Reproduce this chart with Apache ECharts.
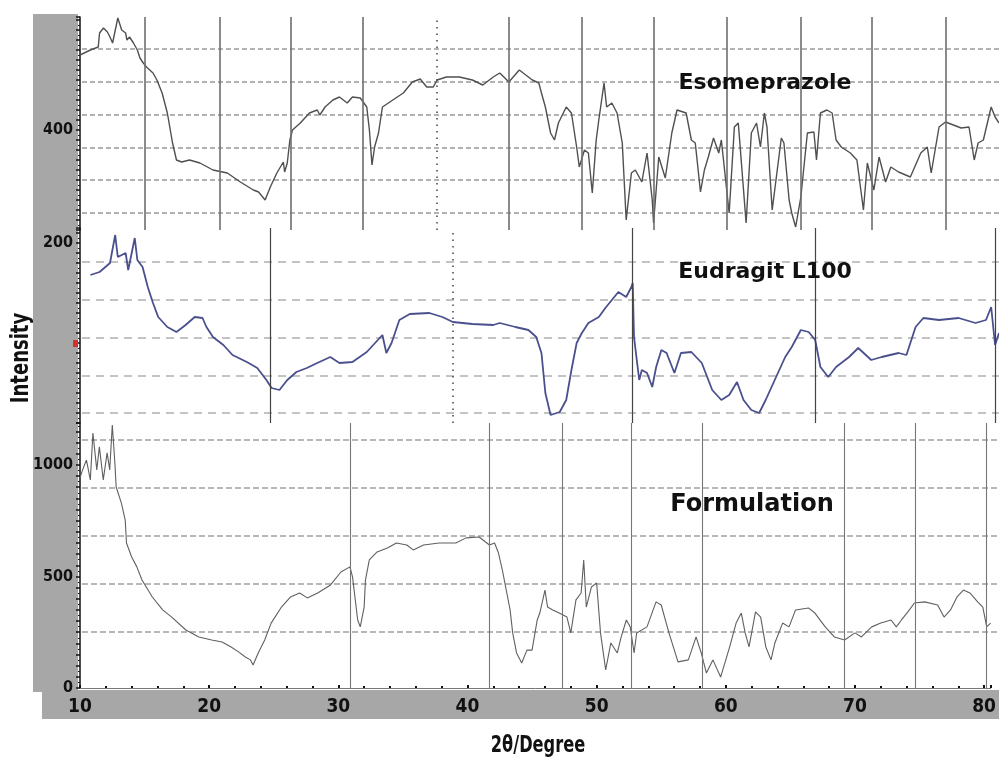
<!DOCTYPE html>
<html><head><meta charset="utf-8">
<script src="https://cdn.jsdelivr.net/npm/echarts@6/dist/echarts.min.js"></script>
<style>html,body{margin:0;padding:0;background:#fff}#c{width:999px;height:763px}</style>
</head><body><div id="c"></div>
<script>
// ---------- DATA ----------
const esoTheta=[10.0,10.8,11.4,11.5,11.8,12.1,12.3,12.5,12.9,13.2,
13.5,13.6,13.8,14.1,14.4,14.6,14.8,15.1,15.6,15.9,
16.3,16.7,17.1,17.4,17.8,18.4,19.2,20.2,21.3,22.3,
23.3,23.7,24.2,24.6,25.1,25.6,25.7,25.9,26.1,26.3,
26.9,27.6,28.2,28.4,28.8,29.4,29.9,30.5,30.9,31.5,
32.0,32.2,32.4,32.6,32.9,33.2,34.0,34.8,35.5,36.1,
36.6,37.1,37.4,38.1,39.1,40.1,40.9,41.7,42.2,42.9,
43.7,44.2,44.7,45.2,45.4,45.7,46.1,46.4,46.7,47.3,
47.7,48.1,48.3,48.7,49.0,49.3,49.6,49.8,50.2,50.4,
50.8,51.2,51.6,51.9,52.3,52.6,53.1,53.5,53.9,54.0,
54.4,54.9,55.4,55.8,56.5,56.9,57.2,57.6,57.9,58.2,
58.6,59.0,59.2,59.8,60.2,60.5,61.1,61.5,61.9,62.2,
62.5,62.7,63.1,63.8,64.0,64.4,64.6,64.9,65.3,65.8,
66.3,66.5,66.8,67.3,67.7,68.0,68.4,69.1,69.6,70.1,
70.4,70.9,71.3,71.8,72.2,72.8,73.7,74.5,75.0,75.3,
75.9,76.4,77.0,77.6,78.2,78.6,78.9,79.3,79.9,80.2,
80.5];
const esoIntensity=[550,560,566,594,604,596,586,574,624,600,
594,580,586,574,560,544,536,526,514,500,
474,434,374,340,336,340,334,320,314,296,
280,276,260,286,314,336,316,334,380,400,
414,434,440,430,446,460,466,454,466,464,
446,400,330,366,394,446,460,474,496,502,
486,486,500,506,506,500,490,506,514,496,
520,510,500,494,474,446,394,380,414,446,
434,366,326,360,354,274,380,420,494,446,
454,434,374,220,314,320,296,354,260,214,
346,304,394,440,434,380,374,276,320,346,
384,354,380,234,406,414,214,394,414,366,
434,406,240,384,374,260,234,206,266,394,
396,340,434,440,434,380,366,354,340,240,
334,280,346,296,326,316,306,354,366,314,
406,416,410,404,406,340,374,380,446,426,
414];

const eudTheta=[10.8,11.5,12.3,12.7,12.9,13.5,13.7,14.2,14.4,14.8,
15.2,15.6,16.0,16.7,17.4,18.1,18.8,19.4,19.7,20.2,
21.0,21.7,22.8,23.6,24.3,24.7,25.3,25.9,26.6,27.4,
28.2,29.2,29.9,30.9,32.0,33.2,33.5,33.9,34.5,35.3,
36.8,37.8,38.6,40.1,41.7,42.2,43.4,44.4,45.0,45.4,
45.7,46.1,46.8,47.3,47.7,48.1,48.5,49.0,49.8,50.3,
50.8,51.3,51.9,52.3,52.4,52.5,52.9,53.1,53.5,53.9,
54.2,54.6,55.0,55.6,56.1,56.9,57.7,58.5,59.2,59.8,
60.4,60.9,61.5,62.1,62.6,63.4,64.1,64.6,65.3,65.9,
66.4,66.8,67.4,68.0,69.0,69.7,70.7,71.5,72.8,73.4,
74.1,74.7,75.9,77.4,78.7,79.5,79.9,80.2,80.5];
const eudIntensity=[168,171,180,208,186,190,173,205,183,176,
156,140,126,116,111,118,126,125,116,106,
98,88,81,75,63,55,53,63,71,75,
80,86,80,81,91,108,90,100,123,129,
130,126,121,119,118,120,116,113,106,90,
50,28,31,43,73,100,110,120,126,135,
143,151,146,156,160,106,63,73,70,56,
76,93,90,70,90,91,80,53,43,48,
61,43,33,30,43,66,86,96,113,111,
103,76,66,76,86,95,83,86,90,88,
116,125,123,125,120,123,136,98,110];

const formTheta=[10.0,10.2,10.5,10.8,11.0,11.3,11.5,11.8,12.1,12.3,
12.5,12.7,12.8,13.2,13.5,13.6,14.0,14.4,14.8,15.6,
16.4,17.1,18.2,19.2,20.2,21.0,21.7,22.3,22.8,23.2,
23.4,23.8,24.3,24.8,25.6,26.3,27.0,27.6,28.4,29.4,
30.2,30.9,31.1,31.5,31.7,32.0,32.1,32.4,33.0,33.8,
34.5,35.3,35.8,36.6,37.8,39.1,39.9,40.9,41.7,42.1,
42.4,42.7,43.3,43.5,43.8,44.2,44.6,45.0,45.4,45.6,
46.0,46.2,46.6,47.1,47.7,48.0,48.4,48.8,49.0,49.2,
49.6,50.0,50.3,50.7,51.1,51.6,51.9,52.3,52.6,52.9,
53.1,53.9,54.6,55.0,55.6,56.3,57.1,57.7,58.1,58.5,
59.0,59.6,60.3,60.8,61.2,61.5,61.8,62.3,62.7,63.1,
63.5,63.8,64.4,64.9,65.4,66.4,66.9,67.7,68.4,69.2,
70.0,70.5,71.3,72.0,72.8,73.2,73.6,74.1,74.6,75.4,
76.4,76.9,77.4,77.9,78.4,78.9,79.5,79.9,80.2,80.5];
const formIntensity=[942,978,1022,933,1143,978,1081,933,1054,978,
1179,1009,901,830,753,650,587,543,484,408,
350,318,260,229,215,206,184,161,139,126,
103,157,215,291,363,408,426,404,426,462,
520,543,498,305,274,363,484,574,610,628,
650,641,619,641,650,650,673,677,641,650,
605,529,350,247,157,112,170,170,305,336,
439,363,350,336,318,247,395,426,574,363,
453,471,247,81,202,157,229,305,274,157,
247,274,386,372,247,117,126,229,157,67,
126,49,184,291,336,247,184,341,318,184,
126,202,291,274,350,359,336,274,229,215,
247,229,274,291,305,274,305,341,381,386,
372,318,350,408,439,426,386,363,274,291];

// vertical reference lines (2θ positions) per panel
const esoPeaks=[15.0,20.7,26.2,31.7,42.9,48.5,54.0,59.6,65.3,70.7,76.4];
const esoDottedPeaks=[37.4];
const eudPeaks=[24.6,52.4,66.4,80.2];
const eudDottedPeaks=[38.6];
const formPeaks=[30.9,41.7,47.3,52.7,58.2,69.2,74.7,80.2];

// tick labels
const xTickLabels=[10,20,30,40,50,60,70,80];
const esoTickLabels=[400];
const eudTickLabels=[200];
const formTickLabels=[0,500,1000];

const panelNames=['Esomeprazole','Eudragit L100','Formulation'];
const xTitle='2θ/Degree';
const yTitle='Intensity';

// ---------- CHART ----------
function zip(a,b){return a.map((v,i)=>[v,b[i]]);}
const COND='"DejaVu Sans Condensed","Liberation Sans",sans-serif';
const TITLEFONT='"DejaVu Sans",Verdana,sans-serif';

function panelX(gi){
  return {gridIndex:gi,type:'value',min:10,max:80.5,show:false};
}
function panelY(gi,min,max,interval,labels){
  return {gridIndex:gi,type:'value',min:min,max:max,interval:interval,
    axisLine:{show:true,lineStyle:{color:'#111',width:1.5}},
    axisTick:{show:true,length:4,lineStyle:{color:'#111',width:1.5}},
    minorTick:{show:true,splitNumber:2,length:2,lineStyle:{color:'#222',width:1}},
    splitLine:{show:false},
    axisLabel:{interval:0,margin:7,color:'#111',fontFamily:COND,fontWeight:'bold',fontSize:16,
      formatter:v=>labels.includes(v)?String(v):''}
  };
}
function decoX(gi){return {gridIndex:gi,type:'value',min:0,max:1,show:false};}
function decoY(gi,n,dash,color){
  return {gridIndex:gi,type:'value',min:0,max:n,interval:1,
    axisLine:{show:false},axisTick:{show:false},axisLabel:{show:false},
    splitLine:{show:true,lineStyle:{type:dash,color:color,width:1.5}}};
}
function marks(solid,dotted,color,width){
  return {silent:true,symbol:'none',animation:false,label:{show:false},
    lineStyle:{color:color,width:width,type:'solid'},
    data:solid.map(v=>({xAxis:v})).concat(dotted.map(v=>({xAxis:v,lineStyle:{type:[1.5,5],color:'#444',width:1.5}})))};
}

const chart=echarts.init(document.getElementById('c'));
chart.setOption({
  animation:false,
  backgroundColor:'#ffffff',
  grid:[
    {left:80,right:0,top:17,height:213},
    {left:80,right:0,top:228,height:195},
    {left:80,right:0,top:423,height:265},
    {left:82,right:0,top:49,height:164},
    {left:82,right:0,top:262,height:151},
    {left:82,right:0,top:440,height:192}
  ],
  xAxis:[
    panelX(0),panelX(1),
    {gridIndex:2,type:'value',min:10,max:80.5,interval:10,
      axisLine:{show:true,lineStyle:{color:'#777',width:1}},
      axisTick:{show:true,inside:true,length:3,lineStyle:{color:'#111',width:2}},
      minorTick:{show:true,splitNumber:5,length:2,lineStyle:{color:'#111',width:2}},
      splitLine:{show:false},
      axisLabel:{interval:0,margin:10,color:'#111',fontFamily:COND,fontWeight:'bold',fontSize:19,
        formatter:v=>xTickLabels.includes(v)?String(v):''}
    },
    decoX(3),decoX(4),decoX(5)
  ],
  yAxis:[
    panelY(0,200,626,20,esoTickLabels),
    panelY(1,20,215,10,eudTickLabels),
    panelY(2,0,1188,50,formTickLabels),
    decoY(3,5,[5,3],'#9a9a9a'),
    decoY(4,4,[8,6],'#b0b0b0'),
    decoY(5,4,[6,3],'#a0a0a0')
  ],
  series:[
    {type:'line',xAxisIndex:0,yAxisIndex:0,data:zip(esoTheta,esoIntensity),showSymbol:false,
      lineStyle:{color:'#505050',width:1.4},z:3,
      markLine:marks(esoPeaks,esoDottedPeaks,'#6e6e6e',1.6)},
    {type:'line',xAxisIndex:1,yAxisIndex:1,data:zip(eudTheta,eudIntensity),showSymbol:false,
      lineStyle:{color:'#4a4f8e',width:1.8},z:3,
      markLine:marks(eudPeaks,eudDottedPeaks,'#444',1.2)},
    {type:'line',xAxisIndex:2,yAxisIndex:2,data:zip(formTheta,formIntensity),showSymbol:false,
      lineStyle:{color:'#606060',width:1.1},z:3,
      markLine:marks(formPeaks,[],'#777',1.1)}
  ],
  graphic:[
    {type:'rect',silent:true,z:-10,shape:{x:33,y:14,width:45,height:678},style:{fill:'#a7a7a7'}},
    {type:'rect',silent:true,z:-10,shape:{x:42,y:690,width:957,height:29},style:{fill:'#a7a7a7'}},
    {type:'rect',silent:true,z:10,shape:{x:73,y:340,width:5,height:7},style:{fill:'#d43030'}},
    {type:'text',silent:true,z:10,x:765,y:83,style:{text:panelNames[0],font:'bold 22px '+TITLEFONT,fill:'#111',align:'center',verticalAlign:'middle'}},
    {type:'text',silent:true,z:10,x:765,y:272,style:{text:panelNames[1],font:'bold 22px '+TITLEFONT,fill:'#111',align:'center',verticalAlign:'middle'}},
    {type:'text',silent:true,z:10,x:752,y:505,style:{text:panelNames[2],font:'bold 24px '+TITLEFONT,fill:'#111',align:'center',verticalAlign:'middle'}},
    {type:'text',silent:true,z:10,x:538,y:746,scaleY:1.3,style:{text:xTitle,font:'bold 18px '+COND,fill:'#111',align:'center',verticalAlign:'middle'}},
    {type:'text',silent:true,z:10,x:22,y:358,rotation:Math.PI/2,scaleY:1.2,style:{text:yTitle,font:'bold 20px '+COND,fill:'#111',align:'center',verticalAlign:'middle'}}
  ]
});
</script></body></html>
